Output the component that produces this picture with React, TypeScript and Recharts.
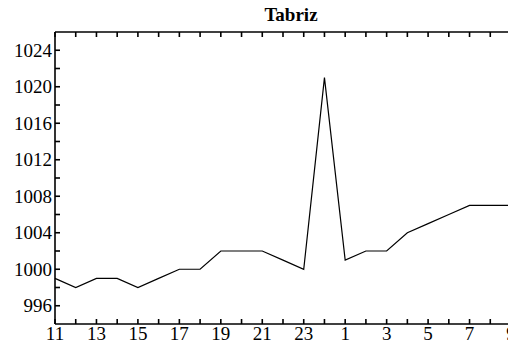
import { LineChart, Line, XAxis, YAxis } from 'recharts'

const hours = ['11', '12', '13', '14', '15', '16', '17', '18', '19', '20', '21', '22', '23', '24', '1', '2', '3', '4', '5', '6', '7', '8', '9']
const pressure = [999, 998, 999, 999, 998, 999, 1000, 1000, 1002, 1002, 1002, 1001, 1000, 1021, 1001, 1002, 1002, 1004, 1005, 1006, 1007, 1007, 1007]
const yTicks = [996, 998, 1000, 1002, 1004, 1006, 1008, 1010, 1012, 1014, 1016, 1018, 1020, 1022, 1024]

const data = hours.map((h, i) => ({ hour: h, idx: i, value: pressure[i] }))

const serif = 'Liberation Serif'

const BottomTick = (props: any) => {
  const { x, y, payload } = props
  if (payload.value % 2 !== 0) return null
  return (
    <text x={x} y={y} textAnchor="middle" dy="0.71em" fill="#000" style={{ fontFamily: serif, fontSize: 19 }}>
      {hours[payload.value]}
    </text>
  )
}

const LeftTick = (props: any) => {
  const { x, y, payload } = props
  if ((payload.value - 996) % 4 !== 0) return null
  return (
    <text x={x} y={y} textAnchor="end" dy="0.355em" fill="#000" style={{ fontFamily: serif, fontSize: 19 }}>
      {payload.value}
    </text>
  )
}

export default function App() {
  return (
    <div
      style={{
        position: 'absolute',
        left: 0,
        top: 0,
        width: 508,
        height: 343,
        overflow: 'hidden',
        background: '#fff',
        fontFamily: serif,
      }}
    >
      <div
        style={{
          position: 'absolute',
          left: 291,
          top: 4,
          transform: 'translateX(-50%)',
          fontWeight: 'bold',
          fontSize: 19,
          lineHeight: '22px',
          color: '#000',
        }}
      >
        Tabriz
      </div>
      <LineChart width={516} height={352} data={data} margin={{ top: 0, right: 0, bottom: 0, left: 0 }}>
        <XAxis
          dataKey="idx"
          type="number"
          domain={[0, 22]}
          ticks={data.map((d) => d.idx)}
          interval={0}
          height={28}
          tickSize={-5}
          tickMargin={8}
          tick={<BottomTick />}
          stroke="#000"
          strokeWidth={1.6}
        />
        <XAxis
          xAxisId="top"
          orientation="top"
          dataKey="idx"
          type="number"
          domain={[0, 22]}
          ticks={data.map((d) => d.idx)}
          interval={0}
          height={32}
          tickSize={-5}
          tickFormatter={() => ''}
          stroke="#000"
          strokeWidth={1.6}
        />
        <YAxis
          domain={[994, 1026]}
          ticks={yTicks}
          interval={0}
          width={55}
          tickSize={-5}
          tickMargin={8}
          tick={<LeftTick />}
          stroke="#000"
          strokeWidth={1.6}
        />
        <YAxis
          yAxisId="right"
          orientation="right"
          domain={[994, 1026]}
          ticks={yTicks}
          interval={0}
          width={5}
          tickSize={-5}
          tickFormatter={() => ''}
          stroke="#000"
          strokeWidth={1.6}
        />
        <Line
          type="linear"
          dataKey="value"
          stroke="#000"
          strokeWidth={1.2}
          dot={false}
          isAnimationActive={false}
        />
      </LineChart>
    </div>
  )
}
